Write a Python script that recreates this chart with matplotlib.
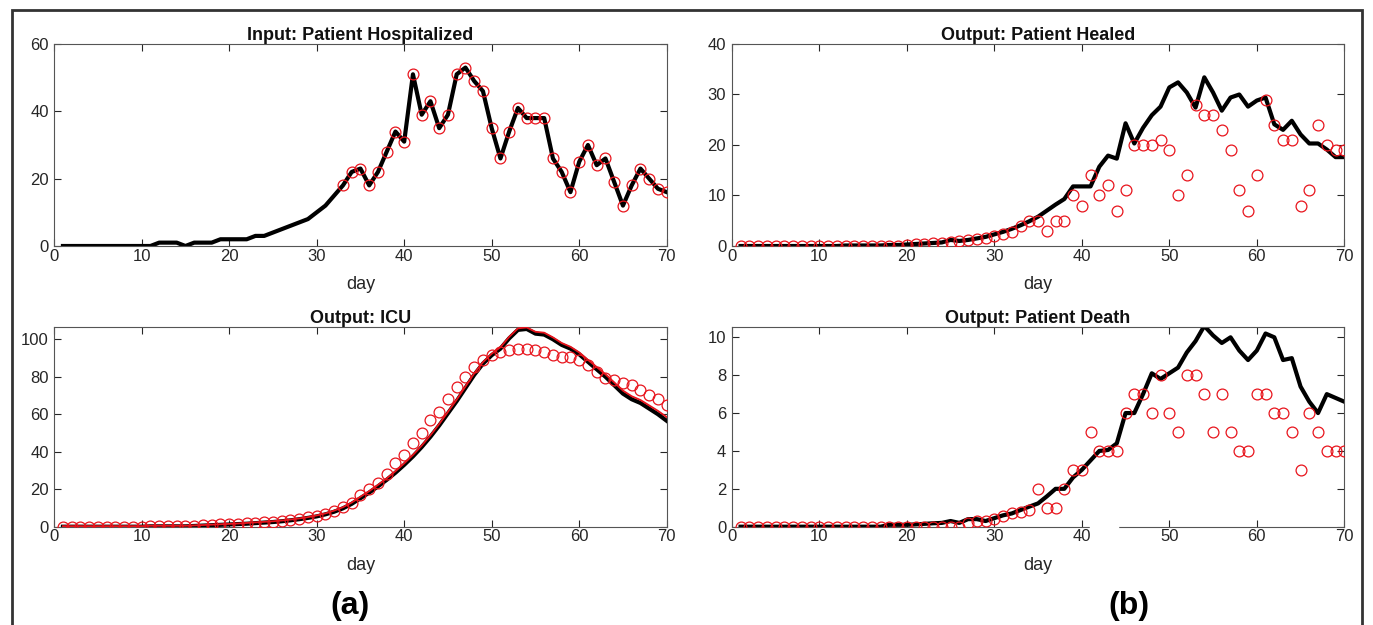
import numpy as np
import matplotlib.pyplot as plt
from matplotlib.patches import Rectangle

plt.rcParams['font.family'] = ['Liberation Sans', 'DejaVu Sans']

days = np.arange(1, 71)

# input: patients hospitalized per day
hospitalized = [0, 0, 0, 0, 0, 0, 0, 0, 0, 0,
                0, 1, 1, 1, 0, 1, 1, 1, 2, 2,
                2, 2, 3, 3, 4, 5, 6, 7, 8, 10,
                12, 15, 18, 22, 23, 18, 22, 28, 34, 31,
                51, 39, 43, 35, 39, 51, 53, 49, 46, 35,
                26, 34, 41, 38, 38, 38, 26, 22, 16, 25,
                30, 24, 26, 19, 12, 18, 23, 20, 17, 16]
hosp_marker_start = 33

# healed: observed (circles) and model output (line)
healed_obs = [0, 0, 0, 0, 0, 0, 0, 0, 0, 0,
              0, 0, 0, 0, 0, 0, 0, 0, 0, 0.2,
              0.3, 0.3, 0.5, 0.6, 0.8, 1.0, 1.1, 1.3, 1.6, 1.9,
              2.3, 2.8, 4, 5, 5, 3, 5, 5, 10, 8,
              14, 10, 12, 7, 11, 20, 20, 20, 21, 19,
              10, 14, 28, 26, 26, 23, 19, 11, 7, 14,
              29, 24, 21, 21, 8, 11, 24, 20, 19, 19]
healed_model = [0, 0, 0, 0, 0, 0, 0, 0, 0, 0,
                0, 0, 0.1, 0.1, 0.1, 0.1, 0.1, 0.2, 0.2, 0.3,
                0.4, 0.5, 0.6, 0.7, 1.2, 1.0, 1.2, 1.5, 1.8, 2.3,
                2.8, 3.4, 4.1, 4.9, 5.8, 7.0, 8.2, 9.3, 11.8, 11.8,
                11.8, 15.7, 17.9, 17.3, 24.3, 20.3, 23.4, 25.9, 27.6, 31.4,
                32.4, 30.4, 27.4, 33.4, 30.4, 26.8, 29.4, 30.0, 27.6, 28.8,
                29.4, 24.1, 23.0, 24.8, 22.1, 20.3, 20.3, 19.1, 17.6, 17.6]

# ICU: observed (circles), model output (black), second model (red)
icu_obs = [0, 0, 0, 0, 0, 0, 0, 0, 0, 0,
           0.3, 0.3, 0.3, 0.3, 0.3, 0.6, 0.9, 1.0, 1.2, 1.4,
           1.6, 1.9, 2.1, 2.4, 2.7, 3.1, 3.6, 4.2, 5.0, 5.8,
           7.0, 8.5, 10.3, 12.8, 16.9, 20.1, 23.5, 28.1, 33.8, 38.2,
           44.4, 49.8, 56.9, 61.3, 68.3, 74.3, 80.0, 85.0, 89.2, 91.6,
           93.3, 94.2, 94.9, 94.9, 94.2, 93.3, 91.6, 90.7, 90.3, 88.9,
           86.2, 82.7, 79.1, 78.2, 76.8, 75.6, 72.9, 70.2, 67.9, 64.9]
icu_model = [0, 0, 0, 0, 0, 0, 0, 0, 0, 0,
             0.2, 0.2, 0.2, 0.2, 0.2, 0.4, 0.6, 0.8, 1.0, 1.2,
             1.4, 1.6, 1.9, 2.2, 2.5, 2.9, 3.4, 4.0, 4.7, 5.5,
             6.6, 8.0, 9.8, 12.2, 15.2, 18.2, 21.5, 25.0, 28.8, 33.0,
             37.5, 42.5, 48.0, 54.0, 60.5, 67.0, 74.0, 81.0, 87.0, 91.5,
             95.0, 100.5, 105.0, 105.5, 103.0, 102.5, 100.0, 97.0, 95.0, 92.0,
             88.0, 84.0, 80.0, 75.5, 71.0, 68.0, 66.0, 63.0, 60.0, 56.5]
icu_model2 = [0.3, 0.3, 0.3, 0.3, 0.3, 0.3, 0.3, 0.3, 0.3, 0.3,
              0.5, 0.5, 0.5, 0.5, 0.5, 0.7, 0.9, 1.1, 1.3, 1.5,
              1.7, 2.0, 2.3, 2.6, 2.9, 3.3, 3.8, 4.4, 5.1, 6.0,
              7.1, 8.6, 10.4, 12.9, 16.0, 19.0, 22.3, 25.8, 29.6, 33.8,
              38.3, 43.3, 48.8, 54.8, 61.3, 67.8, 74.8, 81.8, 87.8, 92.3,
              95.8, 101.3, 105.8, 106.3, 104.0, 103.5, 101.0, 98.0, 96.0, 93.0,
              89.0, 85.2, 81.3, 77.0, 72.6, 69.6, 67.6, 64.7, 61.8, 58.5]

# death: observed (circles) and model output (line)
death_obs = [0, 0, 0, 0, 0, 0, 0, 0, 0, 0,
             0, 0, 0, 0, 0, 0, 0, 0, 0, 0,
             0, 0, 0, 0, 0, 0, 0.2, 0.3, 0.3, 0.4,
             0.56, 0.7, 0.8, 0.9, 2, 1, 1, 2, 3, 3,
             5, 4, 4, 4, 6, 7, 7, 6, 8, 6,
             5, 8, 8, 7, 5, 7, 5, 4, 4, 7,
             7, 6, 6, 5, 3, 6, 5, 4, 4, 4]
death_model = [0, 0, 0, 0, 0, 0, 0, 0, 0, 0,
               0, 0, 0, 0, 0, 0, 0, 0.1, 0.1, 0.1,
               0.12, 0.15, 0.18, 0.2, 0.3, 0.2, 0.4, 0.4, 0.3, 0.45,
               0.6, 0.7, 0.88, 1.06, 1.23, 1.6, 2.0, 2.0, 2.6, 3.0,
               3.5, 4.0, 4.05, 4.4, 6.0, 6.0, 7.0, 8.1, 7.8, 8.1,
               8.4, 9.2, 9.8, 10.6, 10.1, 9.7, 10.0, 9.3, 8.8, 9.3,
               10.2, 10.0, 8.8, 8.9, 7.4, 6.6, 6.0, 7.0, 6.8, 6.6]

RED = '#e8141c'
AXC = '#262626'

fig = plt.figure(figsize=(13.73, 6.25), dpi=100)

W, H = 1373.0, 625.0
def box(l, t, r, b):
    return [l / W, 1 - b / H, (r - l) / W, (b - t) / H]

ax1 = fig.add_axes(box(54.2, 44, 666.7, 246))
ax2 = fig.add_axes(box(731.8, 44, 1344.3, 246))
ax3 = fig.add_axes(box(54.2, 326.7, 666.7, 526.7))
ax4 = fig.add_axes(box(731.8, 326.7, 1344.3, 526.7))

mk = dict(marker='o', ms=7.8, mfc='none', mec=RED, mew=0.9, ls='none')
tfont = dict(fontsize=13, fontweight='bold', color='#111111')

# input
ax1.plot(days, hospitalized, color='black', lw=3, zorder=2)
i0 = hosp_marker_start - 1
ax1.plot(days[i0:], hospitalized[i0:], zorder=3, **mk)
ax1.set_ylim(0, 60)
ax1.set_yticks([0, 20, 40, 60])
ax1.set_title('Input: Patient Hospitalized', pad=3, **tfont)

# healed
ax2.plot(days, healed_model, color='black', lw=3, zorder=2)
ax2.plot(days, healed_obs, zorder=3, **mk)
ax2.set_ylim(0, 40)
ax2.set_yticks([0, 10, 20, 30, 40])
ax2.set_title('Output: Patient Healed', pad=3, **tfont)

# ICU
ax3.plot(days, icu_model, color='black', lw=3, zorder=2)
ax3.plot(days, icu_model2, color=RED, lw=1.3, zorder=3)
ax3.plot(days, icu_obs, zorder=4, **mk)
ax3.set_ylim(0, 106.7)
ax3.set_yticks([0, 20, 40, 60, 80, 100])
ax3.set_title('Output: ICU', pad=3, **tfont)

# death
ax4.plot(days, death_model, color='black', lw=3, zorder=2)
ax4.plot(days, death_obs, zorder=3, **mk)
ax4.set_ylim(0, 10.56)
ax4.set_yticks([0, 2, 4, 6, 8, 10])
ax4.set_title('Output: Patient Death', pad=3, **tfont)
# small break in the bottom axis line seen in the original
ax4.plot([41.1, 44.0], [0, 0], color='white', lw=2.5, clip_on=False, zorder=6)

for ax in (ax1, ax2, ax3, ax4):
    ax.set_xlim(0, 70)
    ax.set_xticks(np.arange(0, 71, 10))
    ax.set_xlabel('day', fontsize=13, labelpad=9, color=AXC)
    ax.tick_params(direction='in', length=5, width=0.8, colors=AXC,
                   labelsize=12, top=True, right=True)
    ax.tick_params(axis='x', pad=2)
    ax.tick_params(axis='y', pad=4)
    for s in ax.spines.values():
        s.set_color('#555555')
        s.set_linewidth(0.8)

fig.text(350 / W, 1 - 606 / H, '(a)', fontsize=23, fontweight='bold',
         ha='center', va='center')
fig.text(1129 / W, 1 - 606 / H, '(b)', fontsize=23, fontweight='bold',
         ha='center', va='center')

fig.patches.append(Rectangle((12 / W, -0.02), (1362 - 12) / W, 1.02 - 10 / H,
                             transform=fig.transFigure, fill=False,
                             edgecolor='#333333', lw=2))

fig.savefig('out.png', dpi=100)
